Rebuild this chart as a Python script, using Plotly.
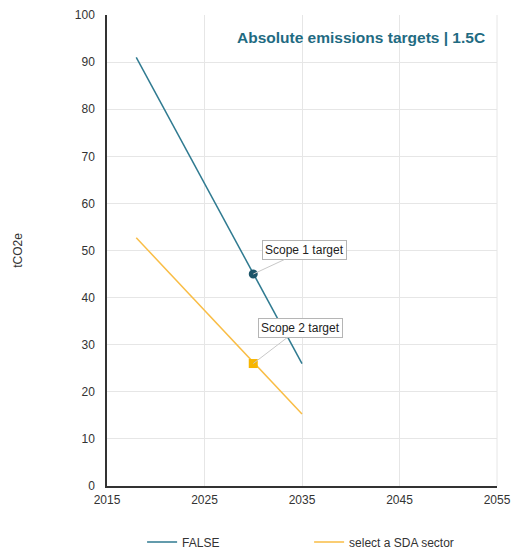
import plotly.graph_objects as go

years = [2018, 2035]
scope1_vals = [91, 26]
scope2_vals = [52.7, 15.3]
target_year = [2030]
scope1_target = [45]
scope2_target = [26]
series_names = ["FALSE", "select a SDA sector"]

fig = go.Figure()
fig.add_trace(go.Scatter(x=years, y=scope1_vals, mode="lines", name=series_names[0],
                         line=dict(color="#2f7a90", width=1.5)))
fig.add_trace(go.Scatter(x=years, y=scope2_vals, mode="lines", name=series_names[1],
                         line=dict(color="#f9bd45", width=1.5)))
fig.add_trace(go.Scatter(x=target_year, y=scope1_target, mode="markers", showlegend=False,
                         marker=dict(symbol="circle", size=9, color="#1d5569")))
fig.add_trace(go.Scatter(x=target_year, y=scope2_target, mode="markers", showlegend=False,
                         marker=dict(symbol="square", size=9, color="#f7b500")))

for tx, ty, lx, ly, txt in [(target_year[0], scope1_target[0], 2035.3, 50.1, "Scope 1 target"),
                            (target_year[0], scope2_target[0], 2034.8, 33.6, "Scope 2 target")]:
    fig.add_annotation(x=tx, y=ty, ax=lx, ay=ly, axref="x", ayref="y", text=txt,
                       showarrow=True, arrowhead=0, arrowwidth=1, arrowcolor="#c8c8c8",
                       bgcolor="white", bordercolor="#b5b5b5", borderwidth=1, borderpad=2,
                       font=dict(family="Arial", size=12, color="#222"))

fig.add_annotation(x=0.975, y=0.975, xref="paper", yref="paper", xanchor="right", yanchor="top",
                   text="<b>Absolute emissions targets | 1.5C</b>", showarrow=False,
                   font=dict(family="Arial", size=15.5, color="#1f6b82"))

fig.update_layout(
    width=512, height=551,
    margin=dict(l=107, r=15, t=15, b=65, autoexpand=False),
    plot_bgcolor="white", paper_bgcolor="white",
    font=dict(family="Arial", size=12, color="#333"),
    xaxis=dict(range=[2015, 2055], tickvals=[2015, 2025, 2035, 2045, 2055],
               showgrid=True, gridcolor="#e6e6e6", showline=True, linecolor="#333", linewidth=1.5,
               mirror=False, zeroline=False, ticks="", ticklabelstandoff=2),
    yaxis=dict(range=[0, 100], dtick=10, showgrid=True, gridcolor="#e6e6e6",
               showline=True, linecolor="#333", linewidth=1.5, zeroline=False, ticks="",
               ticklabelstandoff=8,
               title=dict(text="tCO2e", standoff=50, font=dict(size=12))),
    legend=dict(orientation="h", x=0.09, y=-0.088, xanchor="left", yanchor="top",
                entrywidth=122, entrywidthmode="pixels", font=dict(size=12)),
)
fig.add_shape(type="line", xref="paper", yref="paper", x0=1, x1=1, y0=0, y1=1,
              line=dict(color="#e6e6e6", width=1))
fig.write_html("out.html", config={"displayModeBar": False},
               post_script="document.body.style.margin='0px';")
